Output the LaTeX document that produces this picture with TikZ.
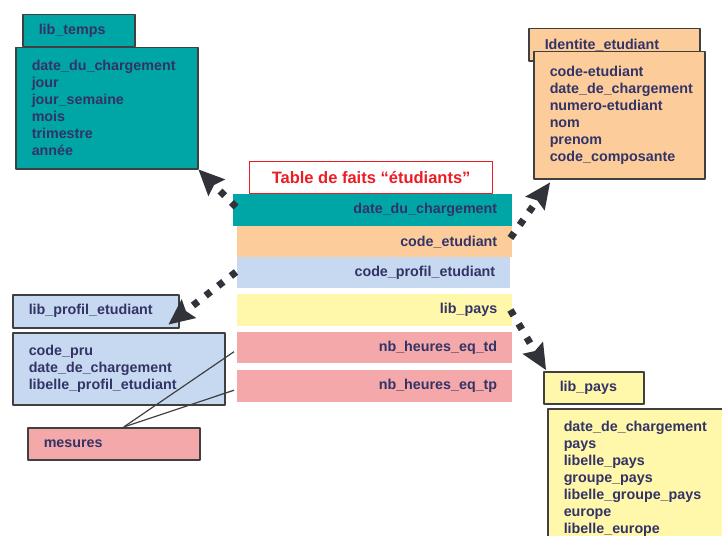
\documentclass[tikz,border=0pt]{standalone}
\usepackage{fontspec}
\setmainfont{Liberation Sans}
\usetikzlibrary{arrows.meta}
\definecolor{bleucanard}{RGB}{0,166,166}
\definecolor{peche}{RGB}{252,205,155}
\definecolor{ciel}{RGB}{198,217,240}
\definecolor{paille}{RGB}{255,247,170}
\definecolor{rose}{RGB}{245,168,170}
\definecolor{encre}{RGB}{51,51,102}
\definecolor{trait}{RGB}{64,64,64}
\definecolor{fleche}{RGB}{50,50,58}
\definecolor{titre}{RGB}{236,28,36}
\begin{document}
\begin{tikzpicture}[x=1pt, y=-1pt, line join=round,
	font=\fontsize{14.3}{17}\selectfont\bfseries,
	boite/.style={draw=trait, line width=1.5pt, anchor=north west, inner xsep=16pt, inner ysep=0pt, align=left, text=encre},
	fait/.style={anchor=north west, inner xsep=15pt, inner ysep=0pt, align=right, text=encre},
	pointe/.style={draw=fleche, line width=7pt, dash pattern=on 6.5pt off 9.5pt, -{Stealth[length=26pt,width=24pt,inset=4pt,line width=0pt]}},
	lien/.style={draw=trait, line width=1.2pt}]
	\useasboundingbox (0,0) rectangle (722,535);
	% dimensions
	\node[boite, fill=bleucanard, text width=80pt, minimum height=32pt] (tempsh) at (22,14) {lib\_temps};
	\node[boite, fill=bleucanard, text width=150pt, minimum height=121pt] (tempsb) at (15,47) {date\_du\_chargement\\jour\\jour\_semaine\\mois\\trimestre\\année};
	\node[boite, fill=peche, text width=139pt, minimum height=32pt] (identh) at (528,28) {Identite\_etudiant};
	\node[boite, fill=peche, text width=139pt, minimum height=127pt] (identb) at (533,51) {code-etudiant\\date\_de\_chargement\\numero-etudiant\\nom\\prenom\\code\_composante};
	\node[boite, fill=ciel, text width=134pt, minimum height=33pt] (profilh) at (12,294) {lib\_profil\_etudiant};
	\node[boite, fill=ciel, text width=180pt, minimum height=72pt] (profilb) at (12,332) {code\_pru\\date\_de\_chargement\\libelle\_profil\_etudiant};
	\node[boite, fill=rose, text width=140pt, minimum height=32pt] (mesures) at (27,427) {mesures};
	\node[boite, fill=paille, text width=68pt, minimum height=32pt] (paysh) at (543,371) {lib\_pays};
	\node[boite, fill=paille, text width=168pt, minimum height=140pt] (paysb) at (547,408) {date\_de\_chargement\\pays\\libelle\_pays\\groupe\_pays\\libelle\_groupe\_pays\\europe\\libelle\_europe};
	% table de faits
	\node[draw=titre, line width=1.2pt, fill=white, anchor=north west, minimum width=243pt, minimum height=32pt, inner sep=0pt, text=titre, font=\fontsize{16.5}{19}\selectfont\bfseries] (titre) at (249,161) {Table de faits “étudiants”};
	\node[fait, fill=bleucanard, text width=249pt, minimum height=32pt] (fdate) at (233,194) {date\_du\_chargement};
	\node[fait, fill=peche, text width=245pt, minimum height=31pt] (fetud) at (237,226) {code\_etudiant};
	\node[fait, fill=ciel, text width=243pt, minimum height=31pt] (fprofil) at (237,257) {code\_profil\_etudiant};
	\node[fait, fill=paille, text width=245pt, minimum height=32pt] (fpays) at (237,294) {lib\_pays};
	\node[fait, fill=rose, text width=245pt, minimum height=31pt] (ftd) at (237,332) {nb\_heures\_eq\_td};
	\node[fait, fill=rose, text width=245pt, minimum height=32pt] (ftp) at (237,370) {nb\_heures\_eq\_tp};
	% liens
	\draw[lien] ([shift={(10,0)}]mesures.north) -- ([shift={(-3,4)}]ftd.west);
	\draw[lien] ([shift={(10,0)}]mesures.north) -- ([shift={(-3,4)}]ftp.west);
	\draw[pointe] ([shift={(3,13)}]fdate.north west) -- (tempsb.south east);
	\draw[pointe] ([shift={(-2,12)}]fetud.north east) -- ([shift={(17,3)}]identb.south west);
	\draw[pointe] ([shift={(-1,15)}]fprofil.north west) -- ([shift={(-11,-4)}]profilh.south east);
	\draw[pointe] ([shift={(-2,16)}]fpays.north east) -- ([shift={(3,-1)}]paysh.north west);
\end{tikzpicture}
\end{document}
